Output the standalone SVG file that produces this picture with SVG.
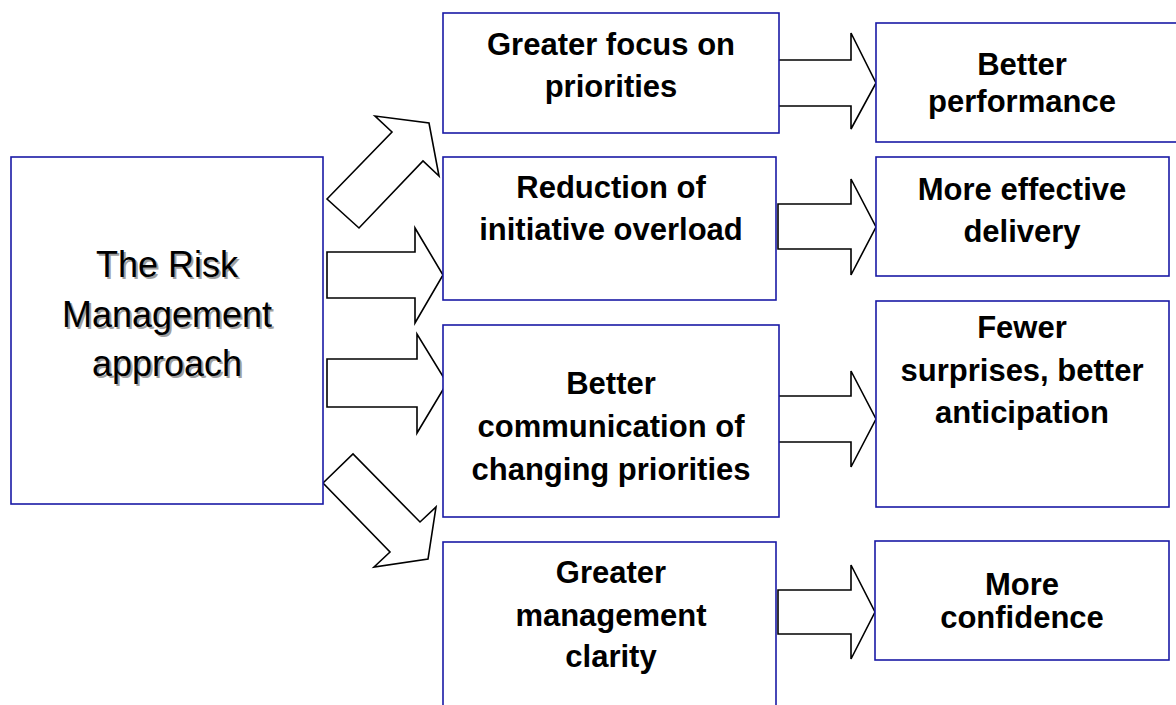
<svg xmlns="http://www.w3.org/2000/svg" width="1176" height="705" viewBox="0 0 1176 705">
<style>
.box{fill:#fff;stroke:#1a1aa6;stroke-width:1.6}
.arr{fill:#fff;stroke:#000;stroke-width:1.6;stroke-linejoin:miter}
.t{font-family:"Liberation Sans",Arial,sans-serif;font-weight:bold;font-size:31px;fill:#000;text-anchor:middle}
.m{font-family:"Liberation Sans",Arial,sans-serif;font-size:36px;text-anchor:middle}
</style>
<rect width="1176" height="705" fill="#fff"/>
<g id="connectors">
<polygon class="arr" points="327,199 392,132 375,116 429,123 439,176 423,161 359,228"/>
<polygon class="arr" points="327,252 415,252 415,228 443,275 415,323 415,298 327,298"/>
<polygon class="arr" points="327,359 417,359 417,334 447,383 417,433 417,407 327,407"/>
<polygon class="arr" points="323,483 353,454 420,522 436,507 428,559 374,567 390,552"/>
<polygon class="arr" points="778,60 851,60 851,33 876,83 851,129 851,106 778,106"/>
<polygon class="arr" points="778,204 851,204 851,179 876,227 851,275 851,249 778,249"/>
<polygon class="arr" points="778,396 851,396 851,371 876,419 851,467 851,442 778,442"/>
<polygon class="arr" points="778,590 851,590 851,565 875,612 851,659 851,634 778,634"/>
</g>
<g id="risk">
<rect class="box" x="11" y="157" width="312" height="347"/>
<g class="m" fill="#a0a0a0" transform="translate(2,2)">
<text x="167" y="277">The Risk</text>
<text x="167" y="327">Management</text>
<text x="167" y="376">approach</text>
</g>
<g class="m" fill="#000">
<text x="167" y="277">The Risk</text>
<text x="167" y="327">Management</text>
<text x="167" y="376">approach</text>
</g>
</g>
<g id="focus">
<rect class="box" x="443" y="13" width="336" height="120"/>
<text class="t" x="611" y="55">Greater focus on</text>
<text class="t" x="611" y="97">priorities</text>
</g>
<g id="reduction">
<rect class="box" x="443" y="157" width="333" height="143"/>
<text class="t" x="611" y="198">Reduction of</text>
<text class="t" x="611" y="240">initiative overload</text>
</g>
<g id="communication">
<rect class="box" x="443" y="325" width="336" height="192"/>
<text class="t" x="611" y="394">Better</text>
<text class="t" x="611" y="437">communication of</text>
<text class="t" x="611" y="480">changing priorities</text>
</g>
<g id="clarity">
<rect class="box" x="443" y="542" width="333" height="170"/>
<text class="t" x="611" y="583">Greater</text>
<text class="t" x="611" y="626">management</text>
<text class="t" x="611" y="667">clarity</text>
</g>
<g id="performance">
<rect class="box" x="876" y="23" width="304" height="119"/>
<text class="t" x="1022" y="75">Better</text>
<text class="t" x="1022" y="112">performance</text>
</g>
<g id="delivery">
<rect class="box" x="876" y="157" width="293" height="119"/>
<text class="t" x="1022" y="200">More effective</text>
<text class="t" x="1022" y="242">delivery</text>
</g>
<g id="surprises">
<rect class="box" x="876" y="301" width="293" height="206"/>
<text class="t" x="1022" y="338">Fewer</text>
<text class="t" x="1022" y="381">surprises, better</text>
<text class="t" x="1022" y="423">anticipation</text>
</g>
<g id="confidence">
<rect class="box" x="875" y="541" width="294" height="119"/>
<text class="t" x="1022" y="595">More</text>
<text class="t" x="1022" y="628">confidence</text>
</g>
</svg>
